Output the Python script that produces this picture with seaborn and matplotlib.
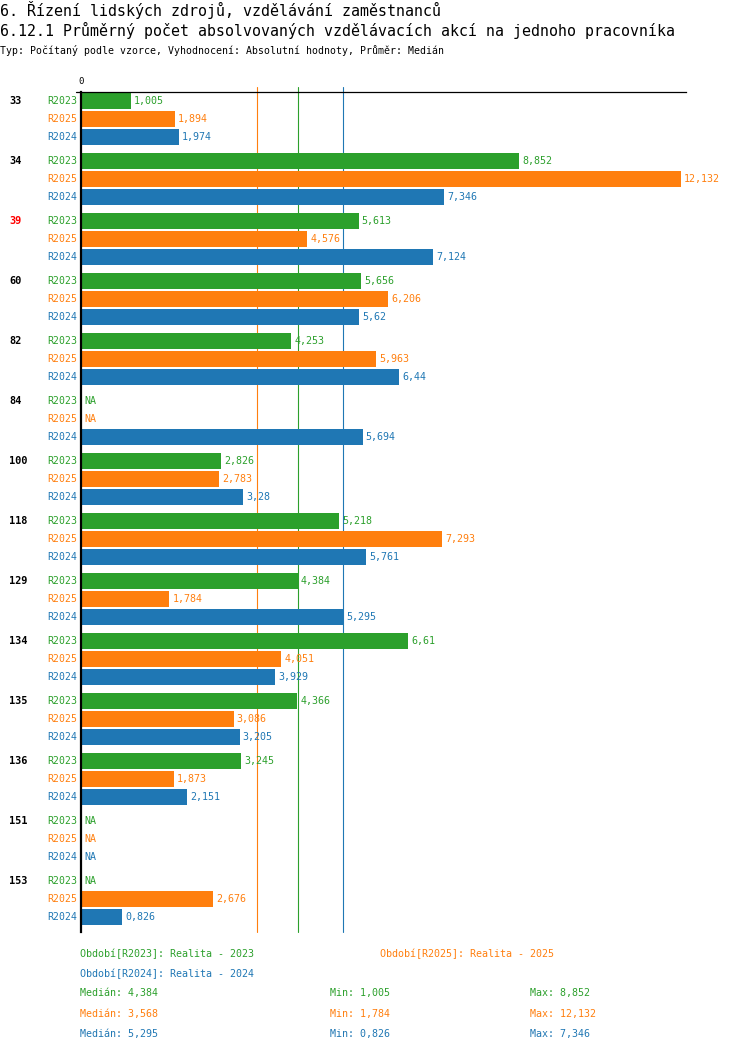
import math
import numpy as np
import pandas as pd
import matplotlib
matplotlib.use("Agg")
import matplotlib.pyplot as plt
import matplotlib.transforms as mtransforms
from matplotlib.lines import Line2D
import seaborn as sns

categories = ["33", "34", "39", "60", "82", "84", "100", "118", "129", "134", "135", "136", "151", "153"]
periods = ["R2023", "R2025", "R2024"]
r2023 = [1.005, 8.852, 5.613, 5.656, 4.253, np.nan, 2.826, 5.218, 4.384, 6.61, 4.366, 3.245, np.nan, np.nan]
r2025 = [1.894, 12.132, 4.576, 6.206, 5.963, np.nan, 2.783, 7.293, 1.784, 4.051, 3.086, 1.873, np.nan, 2.676]
r2024 = [1.974, 7.346, 7.124, 5.62, 6.44, 5.694, 3.28, 5.761, 5.295, 3.929, 3.205, 2.151, np.nan, 0.826]
period_names = {"R2023": "Realita - 2023", "R2025": "Realita - 2025", "R2024": "Realita - 2024"}
highlight = "39"

title1 = "6. Řízení lidských zdrojů, vzdělávání zaměstnanců"
title2 = "6.12.1 Průměrný počet absolvovaných vzdělávacích akcí na jednoho pracovníka"
subtitle = "Typ: Počítaný podle vzorce, Vyhodnocení: Absolutní hodnoty, Průměr: Medián"

colors = {"R2023": "#2ca02c", "R2025": "#ff7f0e", "R2024": "#1f77b4"}
series = {"R2023": r2023, "R2025": r2025, "R2024": r2024}

rows = []
for p in periods:
    for c, v in zip(categories, series[p]):
        rows.append({"cat": c, "period": p, "value": v})
df = pd.DataFrame(rows)
df_plot = df.dropna()

sns.set_theme(style="white")
plt.rcParams["font.family"] = ["DejaVu Sans Mono", "DejaVu Sans"]

W, H = 750, 1052
fig = plt.figure(figsize=(W / 100, H / 100), dpi=100)
ax_left, ax_right, ax_top, ax_bottom = 81, 686, 92, 932
ax = fig.add_axes([ax_left / W, 1 - ax_bottom / H, (ax_right - ax_left) / W, (ax_bottom - ax_top) / H])

sns.barplot(data=df_plot, y="cat", x="value", hue="period", order=categories, hue_order=periods,
            palette=colors, orient="h", width=0.9, gap=2 / 18, errorbar=None, ax=ax,
            legend=False, saturation=1, zorder=2, linewidth=0, edgecolor="none")

px_per_unit = (681 - 81) / 12.132
ax.set_xlim(0, (ax_right - ax_left) / px_per_unit)
ax.set_ylim(13 + 0.45 + 5.8 / 60, -0.45 - 0.5 / 60)

def trunc3(v):
    return math.floor(float(v) * 1000 + 1e-6) / 1000

def fmt(v):
    return f"{trunc3(v):g}".replace(".", ",")

# median lines
blend = mtransforms.blended_transform_factory(ax.transData, ax.transAxes)
for p in periods:
    med = float(np.nanmedian(series[p]))
    ax.plot([med, med], [1 + 5 / 840, 0], color=colors[p], lw=0.8, transform=blend,
            clip_on=False, zorder=0.5)

# labels
offsets = {"R2023": -0.3, "R2025": 0.0, "R2024": 0.3}
ylab = mtransforms.blended_transform_factory(ax.transAxes, ax.transData)
for i, c in enumerate(categories):
    ax.text((9 - ax_left) / (ax_right - ax_left), i - 0.3, c, transform=ylab, ha="left", va="center",
            fontsize=7.4, fontweight="bold", color="red" if c == highlight else "black")
    for p in periods:
        y = i + offsets[p]
        ax.text((77 - ax_left) / (ax_right - ax_left), y, p, transform=ylab, ha="right", va="center",
                fontsize=7.1, color=colors[p])
        v = series[p][i]
        if np.isnan(v):
            ax.annotate("NA", (0, y), xytext=(2.3, 0), textcoords="offset points", ha="left",
                        va="center", fontsize=7.2, color=colors[p])
        else:
            ax.annotate(fmt(v), (v, y), xytext=(2.3, 0), textcoords="offset points", ha="left",
                        va="center", fontsize=7.2, color=colors[p])

# axes styling
ax.set_xlabel("")
ax.set_ylabel("")
ax.set_yticks([])
ax.xaxis.tick_top()
ax.set_xticks([0])
ax.set_xticklabels(["0"])
ax.tick_params(axis="x", length=0, pad=4, labelsize=6.5, colors="black")
for s in ["right", "bottom"]:
    ax.spines[s].set_visible(False)
ax.spines["left"].set_linewidth(1.6)
ax.spines["left"].set_color("black")
ax.spines["top"].set_linewidth(0.9)
ax.spines["top"].set_color("black")
ax.spines["top"].set_zorder(3)
ax.spines["left"].set_zorder(3)
fig.add_artist(Line2D([76 / W, ax_left / W], [1 - ax_top / H, 1 - ax_top / H], color="black",
                      lw=0.9, transform=fig.transFigure))
ax.set_facecolor("white")
fig.patch.set_facecolor("white")

def ftext(x, y, s, **kw):
    fig.text(x / W, 1 - y / H, s, va="center", **kw)

ftext(0, 10, title1, fontsize=10.8, color="black")
ftext(0, 30, title2, fontsize=10.75, color="black")
ftext(0, 50, subtitle, fontsize=7.15, color="black")

ftext(80, 954, f"Období[R2023]: {period_names['R2023']}", fontsize=7.2, color=colors["R2023"])
ftext(380, 954, f"Období[R2025]: {period_names['R2025']}", fontsize=7.2, color=colors["R2025"])
ftext(80, 974, f"Období[R2024]: {period_names['R2024']}", fontsize=7.2, color=colors["R2024"])
for k, p in enumerate(periods):
    y = 993 + k * 20.5
    arr = np.array(series[p], dtype=float)
    ftext(80, y, f"Medián: {fmt(np.nanmedian(arr))}", fontsize=7.2, color=colors[p])
    ftext(330, y, f"Min: {fmt(np.nanmin(arr))}", fontsize=7.2, color=colors[p])
    ftext(530, y, f"Max: {fmt(np.nanmax(arr))}", fontsize=7.2, color=colors[p])

fig.savefig("out.png", dpi=100, facecolor="white")
